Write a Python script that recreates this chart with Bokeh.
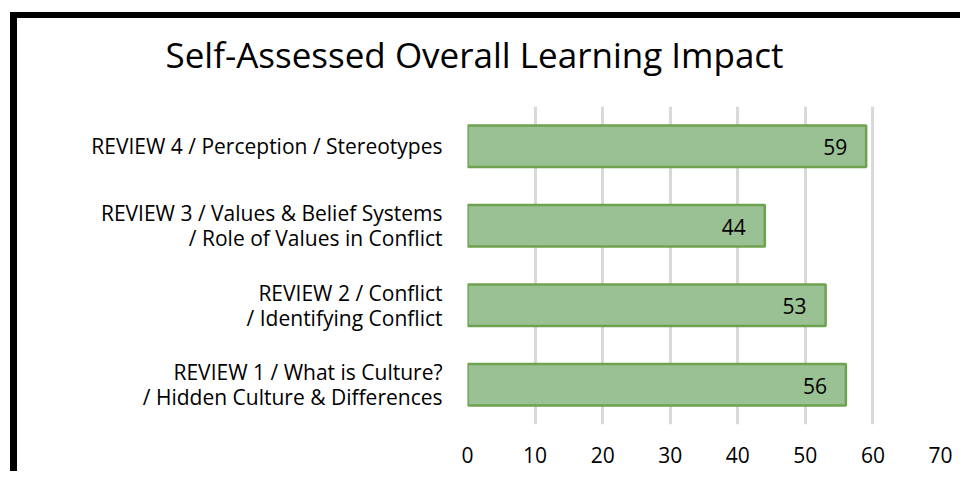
from bokeh.plotting import figure
from bokeh.models import ColumnDataSource, LabelSet, FixedTicker, Title
from bokeh.core.properties import value
from bokeh.embed import file_html
from bokeh.resources import INLINE

categories = [
    "REVIEW 1 / What is Culture?\n/ Hidden Culture & Differences",
    "REVIEW 2 / Conflict\n/ Identifying Conflict",
    "REVIEW 3 / Values & Belief Systems\n/ Role of Values in Conflict",
    "REVIEW 4 / Perception / Stereotypes",
]
values = [56, 53, 44, 59]
x_ticks = [0, 10, 20, 30, 40, 50, 60, 70]
title_text = "Self-Assessed Overall Learning Impact"

FONT = "Open Sans"

source = ColumnDataSource(data=dict(cat=categories, value=values,
                                    label=[str(v) for v in values]))

p = figure(
    y_range=categories, x_range=(0, 70),
    width=950, height=459,
    output_backend="svg", toolbar_location=None,
    min_border_left=450, min_border_right=27,
    min_border_top=88, min_border_bottom=53,
    styles={"border-top": "6px solid #000000", "border-left": "7px solid #000000",
            "margin-left": "10px", "margin-top": "12px"},
)

p.hbar(y="cat", right="value", left=0, height=0.52, source=source,
       fill_color="#99c193", line_color="#6fa24f", line_width=2.5)

labels = LabelSet(x="value", y="cat", text="label", source=source,
                  x_offset=-19, y_offset=-1, text_align="right", text_baseline="middle",
                  text_font=value(FONT), text_font_size="21px", text_color="#000000")
p.add_layout(labels)

# spacer between title and plot frame
spacer = Title(text=" ", text_font_size="1px", standoff=26)
p.add_layout(spacer, "above")

p.title.text = title_text
p.title.text_font = FONT
p.title.text_font_size = "35px"
p.title.text_font_style = "normal"
p.title.text_color = "#000000"
p.title.align = "left"
p.title.offset = -302
p.title.standoff = 0

p.outline_line_color = None
p.background_fill_color = "#ffffff"
p.border_fill_color = "#ffffff"

p.xgrid.ticker = FixedTicker(ticks=x_ticks)
p.xgrid.grid_line_color = "#d9d9d9"
p.xgrid.grid_line_width = 3
p.ygrid.grid_line_color = None

p.xaxis.ticker = FixedTicker(ticks=x_ticks)
p.xaxis.axis_line_color = None
p.xaxis.major_tick_line_color = None
p.xaxis.minor_tick_line_color = None
p.xaxis.major_label_standoff = 16
p.xaxis.major_label_text_font = FONT
p.xaxis.major_label_text_font_size = "21px"
p.xaxis.major_label_text_color = "#000000"

p.yaxis.axis_line_color = None
p.yaxis.major_tick_line_color = None
p.yaxis.minor_tick_line_color = None
p.yaxis.major_label_standoff = 19
p.yaxis.major_label_text_font = FONT
p.yaxis.major_label_text_font_size = "21px"
p.yaxis.major_label_text_color = "#000000"
p.yaxis.major_label_text_line_height = 0.91

p.y_range.range_padding = 0

open("out.html", "w").write(file_html(p, INLINE))
